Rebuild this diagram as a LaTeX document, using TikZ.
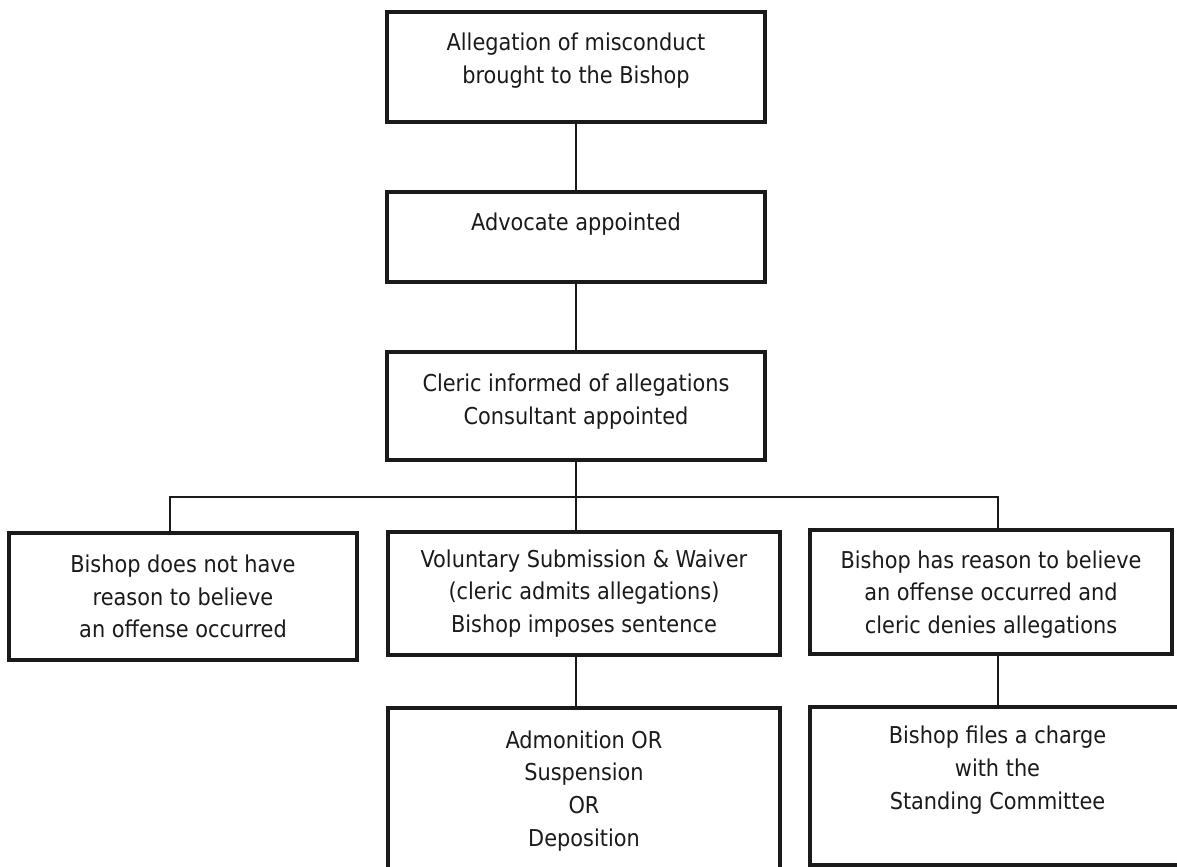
\documentclass[tikz,border=0pt]{standalone}
\usepackage{fontspec}
\setmainfont{DejaVu Sans Condensed}
\usepackage{xcolor}
\definecolor{ink}{HTML}{1A1A1A}

\begin{document}
\begin{tikzpicture}
    [x=0.025cm, y=-0.025cm,
    every node/.style={draw=ink, line width=2.3pt, rectangle, align=center,
        inner sep=0pt, text=ink, font=\fontsize{16.5}{23.2}\selectfont},
    link/.style={draw=ink, line width=1pt}]

    \useasboundingbox (0,0) rectangle (1177,867);
    \clip (0,0) rectangle (1177,867);

    % main column
    \node[minimum width=9.45cm, minimum height=2.75cm, text depth=0.45cm] (alleg) at (576,67)
        {Allegation of misconduct\\brought to the Bishop};
    \node[minimum width=9.45cm, minimum height=2.25cm, text depth=0.78cm] (advoc) at (576,237)
        {Advocate appointed};
    \node[minimum width=9.45cm, minimum height=2.7cm, text depth=0.35cm] (cleric) at (576,406)
        {Cleric informed of allegations\\Consultant appointed};

    % three outcomes
    \node[minimum width=8.7cm, minimum height=3.175cm, text depth=0cm] (nobel) at (183,596.5)
        {Bishop does not have\\reason to believe\\an offense occurred};
    \node[minimum width=9.8cm, minimum height=3.075cm, text depth=0.12cm] (volun) at (584,593.5)
        {Voluntary Submission \& Waiver\\(cleric admits allegations)\\Bishop imposes sentence};
    \node[minimum width=9.05cm, minimum height=3.1cm, text depth=0cm] (reason) at (991,592)
        {Bishop has reason to believe\\an offense occurred and\\cleric denies allegations};

    % results
    \node[minimum width=9.8cm, minimum height=4.1cm, text depth=0.08cm] (sent) at (584,790)
        {Admonition OR\\Suspension\\OR\\Deposition};
    \node[minimum width=9.375cm, minimum height=3.95cm, text depth=0.92cm] (charge) at (997.5,786)
        {Bishop files a charge\\with the\\Standing Committee};

    \coordinate (barL) at (170,497);
    \coordinate (barR) at (998,497);

    \draw[link] (alleg.south) -- (advoc.north);
    \draw[link] (advoc.south) -- (cleric.north);
    \draw[link] (cleric.south) -- (cleric.south |- volun.north);
    \draw[link] (barL |- nobel.north) -- (barL) -- (barR) -- (barR |- reason.north);
    \draw[link] (volun.south -| cleric.south) -- (sent.north -| cleric.south);
    \draw[link] (reason.south -| barR) -- (charge.north -| barR);
\end{tikzpicture}
\end{document}
